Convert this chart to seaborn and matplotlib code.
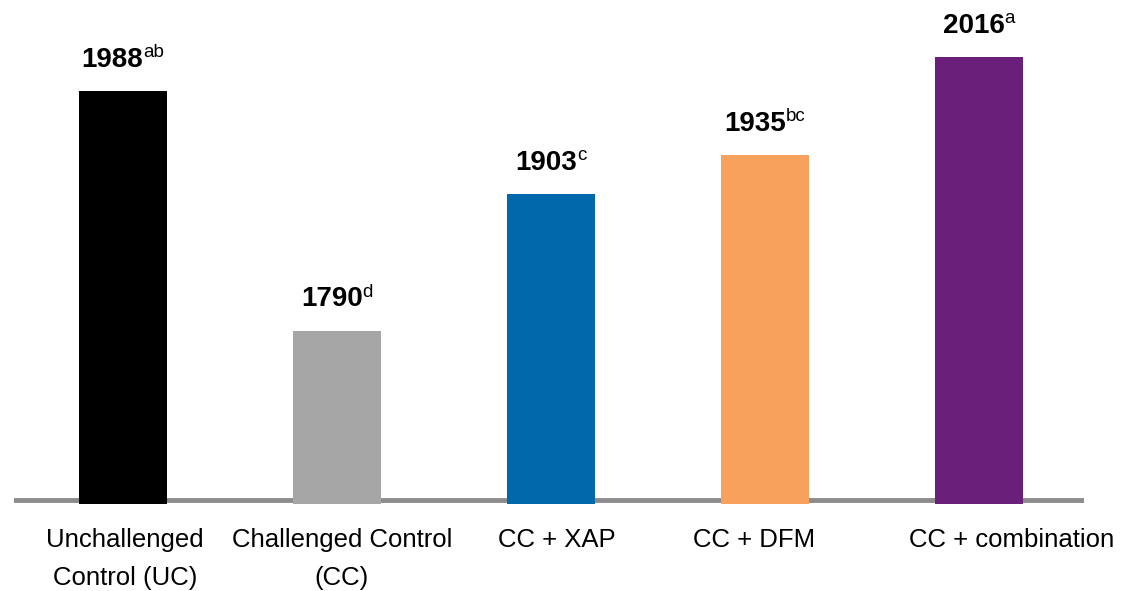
import matplotlib
matplotlib.use("Agg")
import matplotlib.pyplot as plt
import matplotlib.transforms as mtransforms
import seaborn as sns
import pandas as pd

# Data
groups = ["Unchallenged\nControl (UC)", "Challenged Control\n(CC)", "CC + XAP", "CC + DFM", "CC + combination"]
values = [1988, 1790, 1903, 1935, 2016]
letters = ["ab", "d", "c", "bc", "a"]
colors = ["#000000", "#a6a6a6", "#0068ab", "#f8a15d", "#6a1f7a"]

sns.set_theme(style="white")
plt.rcParams["font.family"] = ["Liberation Sans", "DejaVu Sans"]

DPI = 100
df = pd.DataFrame({"group": groups, "value": values})

fig = plt.figure(figsize=(11.35, 5.91), dpi=DPI)
ax = fig.add_axes([14 / 1135, 87 / 591, 1070 / 1135, 504 / 591])

sns.barplot(data=df, x="group", y="value", hue="group", palette=colors,
            width=0.41, legend=False, ax=ax, zorder=3, saturation=1,
            linewidth=0, edgecolor="none")

ax.set_ylim(1647, 2063)
ax.set_xlim(-0.509, 4.491)

# Baseline rule behind the bars
ax.axhline(1650.3, color="#8c8c8c", lw=3.5, solid_capstyle="round", zorder=2)

for s in ax.spines.values():
    s.set_visible(False)
ax.set_yticks([])
ax.set_xlabel("")
ax.set_ylabel("")
ax.tick_params(axis="x", length=0, pad=17, labelsize=18.5, colors="black")

# small horizontal nudges of the category labels (pixels)
nudges = [2, 5, 6, -11, 33]
for lab, dx in zip(ax.get_xticklabels(), nudges):
    lab.set_linespacing(1.75)
    lab.set_transform(lab.get_transform() +
                      mtransforms.ScaledTranslation(dx / DPI, 0, fig.dpi_scale_trans))

# Value labels: bold number followed by superscript significance letters
pairs = []
for i, (v, l) in enumerate(zip(values, letters)):
    t1 = ax.annotate(str(v), xy=(i, v), xytext=(0, 17.5), textcoords="offset points",
                     ha="left", va="baseline", fontsize=20, fontweight="bold", color="black")
    t2 = ax.annotate(l, xy=(i, v), xytext=(0, 17.5 + 7), textcoords="offset points",
                     ha="left", va="baseline", fontsize=13.5, color="black")
    pairs.append((t1, t2))

fig.canvas.draw()
renderer = fig.canvas.get_renderer()
px2pt = 72 / DPI
gap = 0.0
for t1, t2 in pairs:
    w1 = t1.get_window_extent(renderer).width
    w2 = t2.get_window_extent(renderer).width
    total = w1 + gap + w2
    x0 = -total / 2
    t1.xyann = (x0 * px2pt, t1.xyann[1])
    t2.xyann = ((x0 + w1 + gap) * px2pt, t2.xyann[1])

fig.savefig("out.png", dpi=DPI)
